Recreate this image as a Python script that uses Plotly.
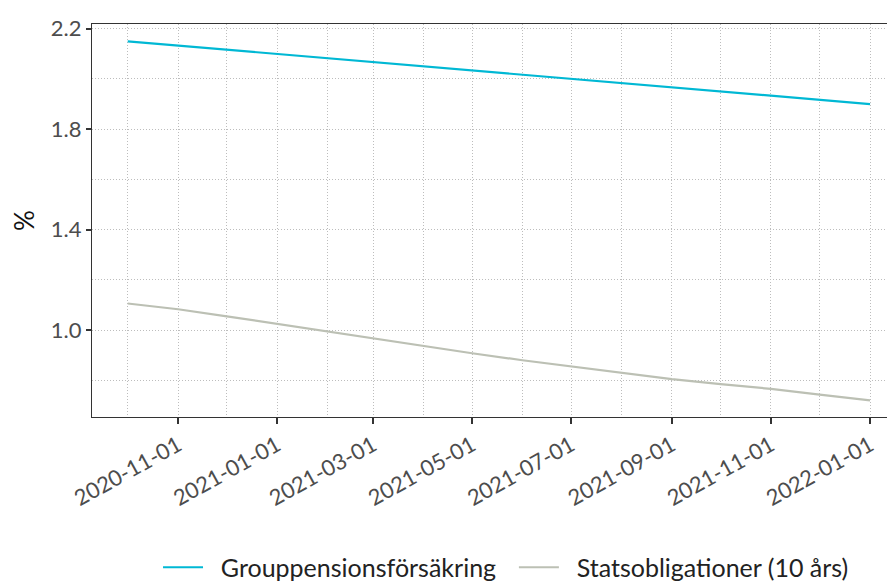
import plotly.graph_objects as go

dates = ["2020-10-01", "2020-11-01", "2020-12-01", "2021-01-01", "2021-02-01",
         "2021-03-01", "2021-04-01", "2021-05-01", "2021-06-01", "2021-07-01",
         "2021-08-01", "2021-09-01", "2021-10-01", "2021-11-01", "2021-12-01",
         "2022-01-01"]
grupp = [2.150, 2.133, 2.117, 2.100, 2.083, 2.067, 2.050, 2.033, 2.017, 2.000,
         1.983, 1.967, 1.950, 1.933, 1.917, 1.900]
stats = [1.106, 1.083, 1.055, 1.025, 0.995, 0.966, 0.937, 0.908, 0.880, 0.855,
         0.828, 0.805, 0.785, 0.766, 0.743, 0.720]
series_names = ["Grouppensionsförsäkring", "Statsobligationer (10 års)"]
x_ticks = ["2020-11-01", "2021-01-01", "2021-03-01", "2021-05-01", "2021-07-01",
           "2021-09-01", "2021-11-01", "2022-01-01"]
y_ticks = [1.0, 1.4, 1.8, 2.2]
y_ticklabels = ["1.0", "1.4", "1.8", "2.2"]

FONT = "Lato"
GRID = "#BDBDBD"
NB = "\u00a0"

fig = go.Figure()
fig.add_trace(go.Scatter(x=dates, y=grupp, mode="lines", name=NB * 2 + series_names[0] + NB * 2,
                         line=dict(color="#00B8D4", width=2.2)))
fig.add_trace(go.Scatter(x=dates, y=stats, mode="lines", name=NB * 2 + series_names[1],
                         line=dict(color="#BCC0B4", width=2.2)))

fig.update_layout(
    width=895, height=600,
    margin=dict(l=84, r=8, t=7, b=191),
    paper_bgcolor="white", plot_bgcolor="white",
    font=dict(family=FONT, color="#222222"),
    showlegend=True,
    legend=dict(orientation="h", x=0.5156, xanchor="center", y=-0.383, yanchor="middle",
                font=dict(family=FONT, size=25, color="#222222"), itemwidth=40),
)
fig.update_xaxes(
    range=["2020-09-09", "2022-01-16 09:00"],
    tickmode="array", tickvals=x_ticks, ticktext=x_ticks,
    tickangle=-29, tickfont=dict(family=FONT, size=22, color="#4D4D4D"),
    ticks="outside", ticklen=6, tickwidth=1.5, tickcolor="#333333",
    showline=True, linecolor="#333333", linewidth=1.2, mirror=True,
    showgrid=True, gridcolor=GRID, griddash="1px,2px", gridwidth=1,
    minor=dict(showgrid=True, gridcolor=GRID, griddash="1px,2px", gridwidth=1,
               tick0="2020-10-01", dtick="M2"),
    zeroline=False,
)
fig.update_yaxes(
    range=[0.654, 2.219],
    tickmode="array", tickvals=y_ticks, ticktext=y_ticklabels,
    tickfont=dict(family=FONT, size=22, color="#4D4D4D"),
    ticklabeloverflow="allow",
    ticks="outside", ticklen=5, tickwidth=1.5, tickcolor="#333333",
    showline=True, linecolor="#333333", linewidth=1.2, mirror=False,
    showgrid=True, gridcolor=GRID, griddash="1px,2px", gridwidth=1,
    minor=dict(showgrid=True, gridcolor=GRID, griddash="1px,2px", gridwidth=1,
               tick0=0.8, dtick=0.4),
    title=dict(text="%", font=dict(family=FONT, size=26, color="#111111"), standoff=10),
    zeroline=False,
)

fig.write_html("out.html")
